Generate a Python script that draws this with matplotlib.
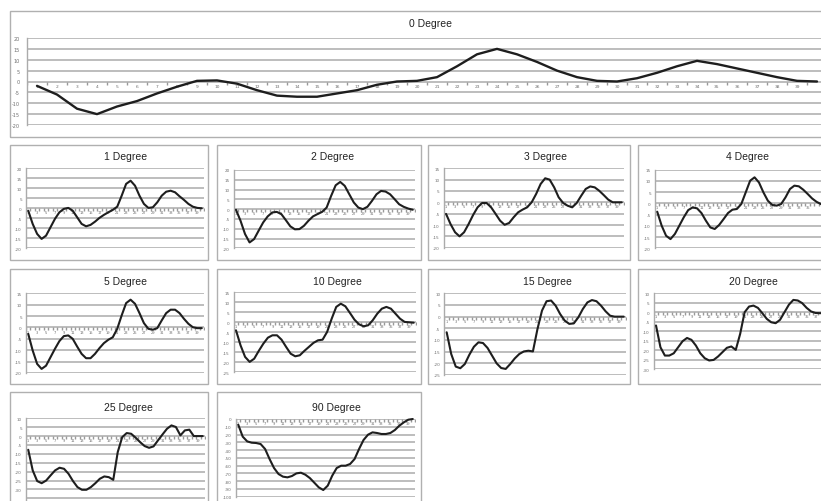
import matplotlib
matplotlib.use("Agg")
import matplotlib.pyplot as plt
from matplotlib.patches import Rectangle
import numpy as np

W, H = 821, 502

# measurement positions 1..40
points = list(range(1, 41))

deg0 = [-2, -6, -12.5, -15, -11.5, -9, -5.5, -2.4, 0.3, 0.5, -1, -4, -6.5, -7, -7, -5.5,
        -4, -1.5, 0, 0.3, 2, 7, 12.5, 15, 12.5, 9, 5, 2, 0.3, 0, 1.5, 4, 7, 9.5, 8, 6, 4, 2, 0.3, 0]
deg1 = [-1.2, -7.8, -12.8, -15.3, -13.7, -9.5, -5.3, -2, -0.3, 0.2, -1.2, -4.5, -7.8, -9, -8.3, -6.7,
        -4.8, -3.3, -2, -0.8, 0.8, 6.3, 12.2, 13.8, 11.3, 6.3, 2.2, 0.2, 0.5, 3, 6.3, 8.3, 8.8, 8, 6, 4.2,
        2.2, 0.8, 0.2, 0]
deg2 = [-0.3, -5.9, -12.7, -17, -15.3, -11, -6.8, -3.7, -1.7, -1.4, -2.5, -5.6, -8.8, -10.3, -10.2, -8.5,
        -5.9, -3.7, -2.5, -1.4, 0.8, 6.8, 12.2, 13.9, 11.9, 7.6, 3.4, 0.8, 0, 1.2, 4.2, 7.6, 9.3, 9, 7.6, 5.1,
        2.5, 1.2, 0.3, -0.3]
deg3 = [-5.1, -9.6, -13.2, -15, -13.2, -9.6, -5.6, -2.2, -0.3, -0.3, -2.2, -5.1, -8.1, -9.9, -9.1, -6.6,
        -4.4, -3.2, -2.2, 0, 3.7, 8.1, 10.6, 10, 6.6, 2.2, -0.3, -1.5, -2.2, -0.3, 2.9, 5.9, 7, 6.6, 5.1, 3.2,
        1.2, 0, 0, 0]
deg4 = [-3.7, -9.9, -14.4, -15.9, -13.6, -9.9, -6.2, -3, -1.8, -2.2, -4.3, -7.7, -10.7, -11.4, -9.6, -7,
        -4.3, -2.8, -2.5, -0.3, 4.9, 10.1, 11.6, 9.3, 4.9, 1.2, -0.7, -1, -0.3, 2.7, 6.4, 7.9, 7.6, 6.1, 4.2,
        2.2, 0.7, -0.3, -0.6, -0.6]
deg5 = [-2.8, -10.1, -16, -18.2, -16.8, -13.1, -9.4, -6, -3.8, -3.5, -5, -8.4, -11.6, -13.5, -13.5, -11.6,
        -9.1, -6.9, -5.4, -4.3, -0.6, 5.3, 10.7, 12.2, 10.4, 6.3, 1.9, -0.6, -1, -0.3, 3.1, 6.3, 7.8, 7.8, 6.3,
        3.8, 1.6, 0.1, -0.3, -0.3]
deg10 = [-4, -11.5, -17.3, -19.8, -18.2, -14.3, -10.7, -7.7, -6.5, -6.5, -8.7, -12.3, -15.7, -17, -16.5,
         -14.3, -12.3, -10.3, -9, -8.7, -4.8, 1.8, 7.7, 9.3, 8, 4.7, 1.3, -1, -2, -1.5, 1, 4.3, 6.8, 7.7, 6.8,
         4.3, 1.8, 0.2, 0, -0.2]
deg15 = [-6.7, -16, -21.4, -22.1, -20.3, -16.3, -12.9, -11, -11.3, -13.4, -16.7, -20, -22, -22.4, -20.3,
         -17.9, -16, -14.9, -14.6, -14.9, -5.3, 2.6, 6.6, 6.9, 4.7, 1.1, -1.7, -3.1, -2.9, -0.3, 3.3, 6.1, 7.1,
         6.6, 4.7, 2.3, 0.4, 0, 0, 0]
deg20 = [-7, -18.5, -22.9, -22.9, -21.7, -18.5, -15.3, -13.6, -14.6, -17.6, -21.7, -24.3, -25.5, -25.2,
         -23.4, -21.1, -18.8, -18.1, -19.9, -11.4, 0, 3, 3.5, 2.3, -0.5, -3.5, -5.3, -5.8, -4, 0, 4, 6.5, 6.2,
         4.8, 2.3, 0.4, -0.4, -0.5, -0.5, -0.5]
deg25 = [-7.7, -19.3, -25.3, -26.5, -25, -22.1, -19.3, -17.8, -18.4, -21.2, -25.3, -28.7, -30.2, -30.2,
         -28.7, -26.5, -24, -22.7, -23.1, -24.6, -9, -0.6, 1.7, 1.3, -0.9, -3.4, -5.6, -6.6, -5.8, -2.4, 0.9,
         4.1, 6, 5.1, 0.4, 3.2, 3.6, 0, 0, 0]
deg90 = [-7.3, -22.7, -28.8, -30.5, -30.9, -32.2, -38.6, -51.5, -63.1, -70.8, -74.2, -75.1, -73.4, -70,
         -69.1, -71.7, -76, -82, -88, -91.4, -85.8, -73, -63.1, -60.1, -60.1, -57.9, -51.5, -38.6, -27, -20.2,
         -17.2, -18, -19.3, -19.3, -18, -14.2, -8.6, -4.3, -0.9, 0]

titles = ["0 Degree", "1 Degree", "2 Degree", "3 Degree", "4 Degree", "5 Degree",
          "10 Degree", "15 Degree", "20 Degree", "25 Degree", "90 Degree"]
series = [deg0, deg1, deg2, deg3, deg4, deg5, deg10, deg15, deg20, deg25, deg90]

# value-axis ranges (max, min, step) for each chart
yranges = [(20, -20, 5), (20, -20, 5), (20, -20, 5), (15, -20, 5), (15, -20, 5), (15, -20, 5),
           (15, -25, 5), (10, -25, 5), (10, -30, 5), (10, -40, 5), (0, -100, 10)]

# chart frames in pixels: (left, top, right, bottom)
frames = [(10, 12, 850, 138),
          (10, 146, 208, 261), (217, 146, 421, 261), (428, 146, 630, 261), (638, 146, 840, 261),
          (10, 270, 208, 385), (217, 270, 421, 385), (428, 270, 630, 385), (638, 270, 840, 385),
          (10, 393, 208, 530), (217, 393, 421, 530)]

# plot areas in pixels: (left, right, y of max, y of min)
areas = [(27, 827, 39, 126),
         (26, 204, 169.3, 249.3), (233.7, 415, 171, 249.3), (443.8, 624, 169.3, 248.7),
         (655, 832, 170.7, 249.3),
         (26, 204, 294.3, 374), (233.7, 416, 293.3, 373.3), (444.4, 626, 294.3, 376),
         (653.8, 831, 294.3, 370),
         (26, 205, 419.3, 508.2), (236, 415, 420, 497.7)]

# title centres in pixels
title_pos = [(430, 24), (126, 157), (333, 157), (545, 157), (747, 157),
             (126, 282), (337, 282), (547, 282), (753, 282), (128, 408), (336, 408)]

GRID = "#ababab"
TEXT = "#6e6e6e"

fig = plt.figure(figsize=(W / 100, H / 100), dpi=100)
fig.patch.set_facecolor("white")

for k, (vals, title) in enumerate(zip(series, titles)):
    fl, ft, fr, fb = frames[k]
    fig.add_artist(Rectangle((fl / W, 1 - fb / H), (fr - fl) / W, (fb - ft) / H,
                             transform=fig.transFigure, fill=False,
                             edgecolor="#b0b0b0", lw=1.0))
    tx, ty = title_pos[k]
    fig.text(tx / W, 1 - ty / H, title, ha="center", va="center",
             fontsize=7.5, color="#222222", family="Liberation Sans")

    x0, x1, yt, yb = areas[k]
    ymax, ymin, step = yranges[k]
    ax = fig.add_axes([x0 / W, 1 - yb / H, (x1 - x0) / W, (yb - yt) / H])
    ax.set_xlim(0.5, 40.5)
    ax.set_ylim(ymin, ymax)
    ax.patch.set_alpha(0)
    ticks = np.arange(ymin, ymax + step / 2, step)
    for t in ticks:
        ax.axhline(t, color=GRID, lw=1.1, zorder=1)
    for s in ["top", "right", "bottom"]:
        ax.spines[s].set_visible(False)
    ax.spines["left"].set_color(GRID)
    ax.spines["left"].set_linewidth(1.0)

    # value labels only where they fall inside the figure
    px_per_unit = (yb - yt) / (ymax - ymin)
    shown = [t for t in ticks if yt + (ymax - t) * px_per_unit < H - 4]
    ax.set_yticks(shown)
    ax.set_yticklabels([f"{int(t)}" for t in shown])
    ax.tick_params(axis="y", length=0, pad=3 if k else 5, labelsize=3 if k else 3.5,
                   labelcolor=TEXT)
    ax.set_xticks([])

    # category axis along zero with small tick marks and numbers
    bounds = np.arange(0.5, 41, 1.0)
    ax.plot(bounds, np.zeros_like(bounds), linestyle="none", marker=3,
            markersize=2, color="#999999", zorder=2)
    every = 1 if k == 0 else 2
    step_px = (x1 - x0) / 40
    for p in points[::every]:
        if x0 + (p - 0.5) * step_px > W - 5:
            continue
        ax.annotate(str(p), (p, 0), xytext=(0, -1.5), textcoords="offset points",
                    ha="center", va="top", fontsize=2.6 if k else 3.2, color=TEXT,
                    annotation_clip=False)

    ax.plot(points, vals, color="#1e1e1e", lw=1.7 if k == 0 else 1.5,
            solid_joinstyle="round", solid_capstyle="round", zorder=3, clip_on=False)

fig.savefig("out.png", dpi=100, facecolor="white")
